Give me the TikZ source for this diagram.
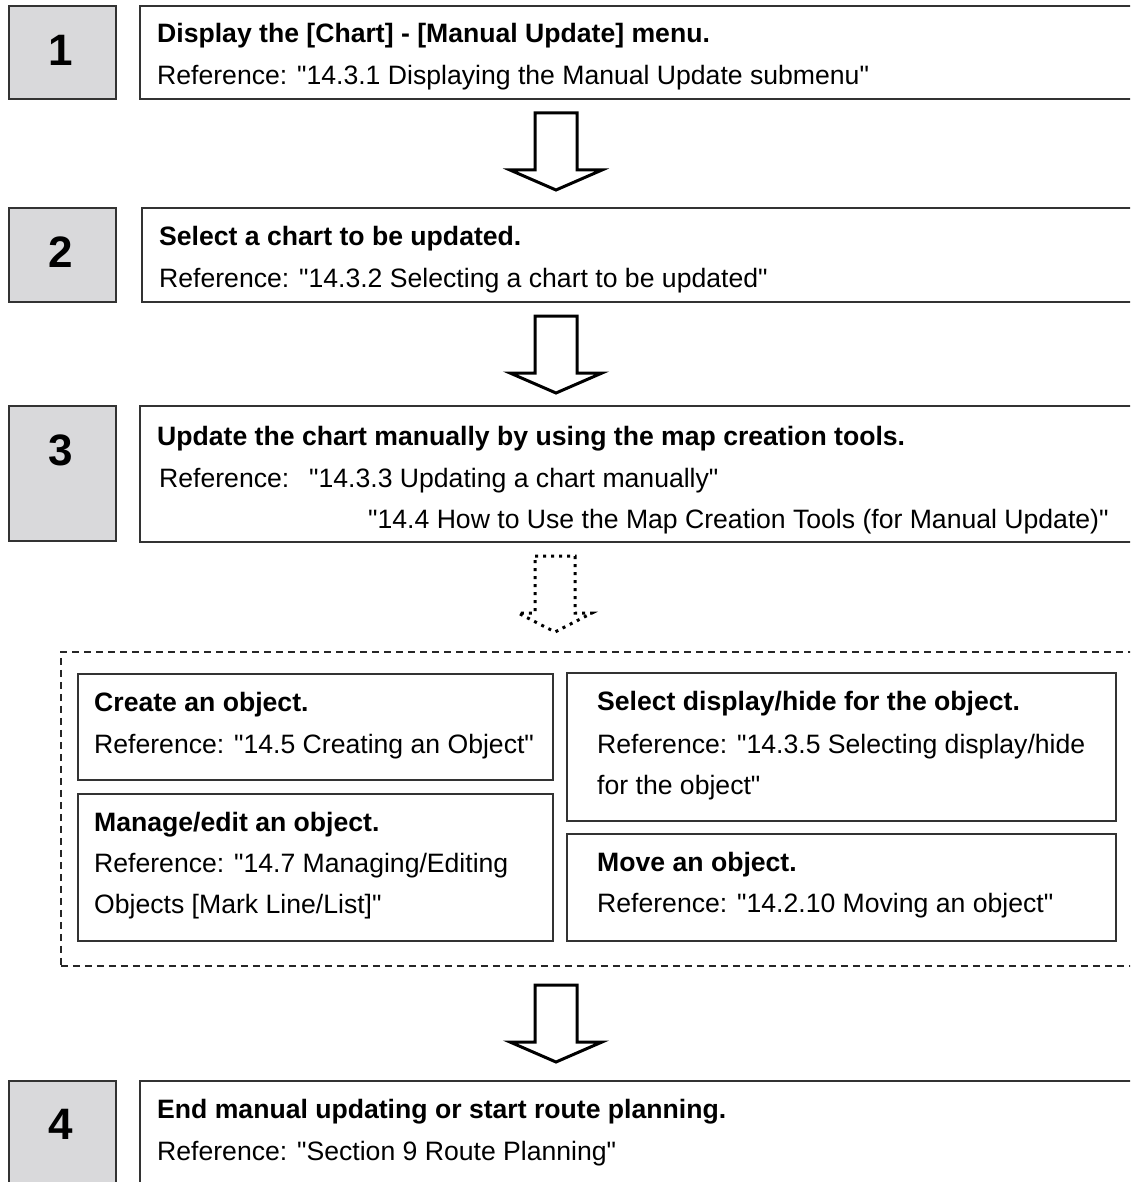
\documentclass[tikz,border=0pt]{standalone}
\usepackage{fontspec}
\setmainfont{Liberation Sans}[Ligatures=TeXOff]
\usetikzlibrary{calc}
\begin{document}
\begin{tikzpicture}[x=1pt,y=-1pt,
  numbox/.style={draw=black!80, line width=2pt, fill=numgray, anchor=north west, inner sep=0pt},
  txtbox/.style={draw=black!80, line width=2pt, fill=white, anchor=north west, inner sep=0pt},
  subbox/.style={draw=black!80, line width=1.6pt, fill=white, anchor=north west, inner sep=0pt},
  numtext/.style={font=\fontsize{44}{50}\selectfont\bfseries, inner sep=0pt},
  ttl/.style={font=\fontsize{26.6}{30}\selectfont\bfseries, anchor=base west, inner sep=0pt},
  reftext/.style={font=\fontsize{26.6}{30}\selectfont, anchor=base west, inner sep=0pt},
  blockarrow/.style={draw=black, line width=3pt, fill=white, line join=miter},
  dotarrow/.style={draw=black, line width=3pt, dash pattern=on 3pt off 5pt},
  region/.style={draw=black!85, line width=1.5pt, dash pattern=on 7pt off 5pt}
]
\definecolor{numgray}{HTML}{D9D9DB}
\useasboundingbox (0,0) rectangle (1130,1182);
\clip (0,0) rectangle (1130,1182);
\fill[white] (0,0) rectangle (1130,1182);

% Step 1
\node[numbox, minimum width=107pt, minimum height=93pt] (n1) at (8,5) {};
\node[numtext] (n1t) at (61,50) {1};
\node[txtbox, minimum width=1010pt, minimum height=93pt] (t1) at (139,5) {};
\node[ttl] (t1a) at (157,43) {Display the [Chart] - [Manual Update] menu.};
\node[reftext] (t1b) at (157,85) {Reference: "14.3.1 Displaying the Manual Update submenu"};

% Step 2
\node[numbox, minimum width=107pt, minimum height=94pt] (n2) at (8,207) {};
\node[numtext] (n2t) at (61,252) {2};
\node[txtbox, minimum width=1010pt, minimum height=94pt] (t2) at (141,207) {};
\node[ttl] (t2a) at (159,245) {Select a chart to be updated.};
\node[reftext] (t2b) at (159,287) {Reference: "14.3.2 Selecting a chart to be updated"};

% Step 3
\node[numbox, minimum width=107pt, minimum height=135pt] (n3) at (8,405) {};
\node[numtext] (n3t) at (61,450) {3};
\node[txtbox, minimum width=1010pt, minimum height=136pt] (t3) at (139,405) {};
\node[ttl] (t3a) at (157,445) {Update the chart manually by using the map creation tools.};
\node[reftext] (t3b) at (159,487) {Reference:};
\node[reftext] (t3c) at (309,487) {"14.3.3 Updating a chart manually"};
\node[reftext] (t3d) at (368,528) {"14.4 How to Use the Map Creation Tools (for Manual Update)"};

% dashed region
\node[region, anchor=north west, minimum width=1100pt, minimum height=314pt, inner sep=0pt] (reg) at (60,651) {};

\node[subbox, minimum width=475pt, minimum height=106pt] (c1) at (77,673) {};
\node[ttl] (c1a) at (94,711) {Create an object.};
\node[reftext] (c1b) at (94,753) {Reference: "14.5 Creating an Object"};

\node[subbox, minimum width=475pt, minimum height=147pt] (c2) at (77,793) {};
\node[ttl] (c2a) at (94,831) {Manage/edit an object.};
\node[reftext] (c2b) at (94,872) {Reference: "14.7 Managing/Editing};
\node[reftext] (c2c) at (94,913) {Objects [Mark Line/List]"};

\node[subbox, minimum width=549pt, minimum height=148pt] (c3) at (566,672) {};
\node[ttl] (c3a) at (597,710) {Select display/hide for the object.};
\node[reftext] (c3b) at (597,753) {Reference: "14.3.5 Selecting display/hide};
\node[reftext] (c3c) at (597,794) {for the object"};

\node[subbox, minimum width=549pt, minimum height=107pt] (c4) at (566,833) {};
\node[ttl] (c4a) at (597,871) {Move an object.};
\node[reftext] (c4b) at (597,912) {Reference: "14.2.10 Moving an object"};

% Step 4
\node[numbox, minimum width=107pt, minimum height=140pt] (n4) at (8,1080) {};
\node[numtext] (n4t) at (61,1124) {4};
\node[txtbox, minimum width=1010pt, minimum height=140pt] (t4) at (139,1080) {};
\node[ttl] (t4a) at (157,1118) {End manual updating or start route planning.};
\node[reftext] (t4b) at (157,1160) {Reference: "Section 9 Route Planning"};

% arrows
\coordinate (a1) at (556,113);
\coordinate (a2) at (556,316);
\coordinate (a3) at (555,556);
\coordinate (a4) at (556,985);
\foreach \c in {a1,a2,a4}{
  \draw[blockarrow] ($(\c)+(-21,0)$) -- ($(\c)+(21,0)$) -- ($(\c)+(21,57)$) -- ($(\c)+(46,57)$) -- ($(\c)+(0,77)$) -- ($(\c)+(-46,57)$) -- ($(\c)+(-21,57)$) -- cycle;
}
\draw[dotarrow] ($(a3)+(-20,0)$) -- ($(a3)+(20,0)$) -- ($(a3)+(20,57)$) -- ($(a3)+(37,57)$) -- ($(a3)+(0,76)$) -- ($(a3)+(-37,57)$) -- ($(a3)+(-20,57)$) -- cycle;
\end{tikzpicture}
\end{document}
